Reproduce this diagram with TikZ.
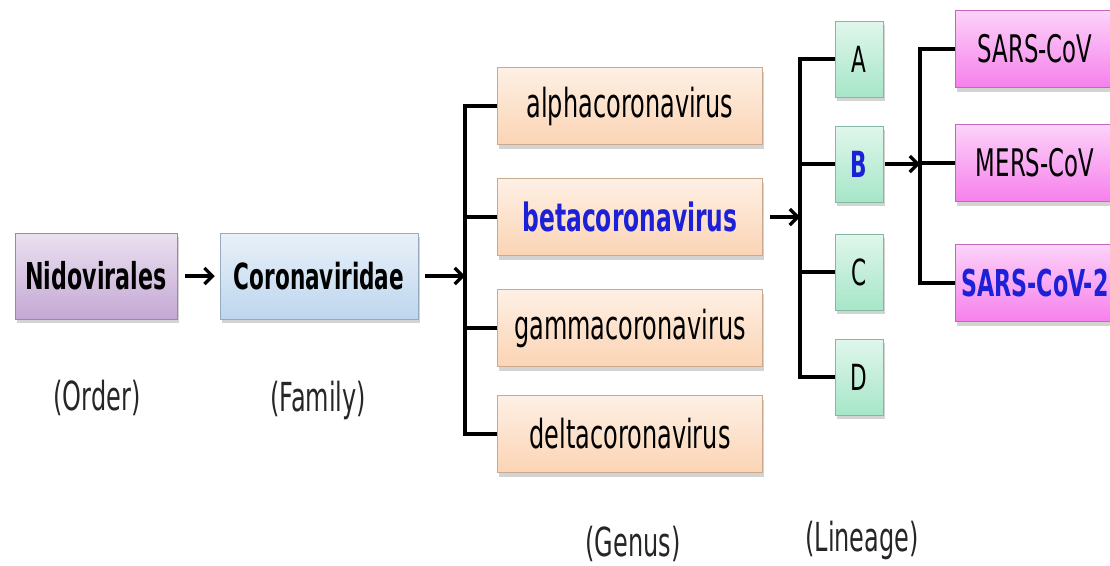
\documentclass[tikz,border=0pt]{standalone}
\usepackage{fontspec}
\setmainfont{DejaVu Sans}[FakeStretch=0.6]
\usetikzlibrary{arrows.meta,shadows}
\definecolor{nidocol}{RGB}{196,168,212}
\definecolor{coronacol}{RGB}{190,214,238}
\definecolor{genuscol}{RGB}{251,212,180}
\definecolor{lineagecol}{RGB}{166,230,200}
\definecolor{straincol}{RGB}{246,128,236}
\definecolor{hilite}{RGB}{28,32,214}
\begin{document}
\begin{tikzpicture}[x=1pt, y=-1pt, line width=3.2pt,
    box/.style={rectangle, inner sep=0pt, draw=#1!80!black, line width=0.5pt,
        top color=#1!35!white, bottom color=#1,
        drop shadow={shadow xshift=1.5pt, shadow yshift=-4pt, opacity=0.35}},
    arr/.style={-{Straight Barb[length=8pt, width=16pt]}},
    rank/.style={font=\fontsize{40}{44}\selectfont, text=black!85}]
    \useasboundingbox (0,0) rectangle (1110,565);

    % order and family
    \node [box=nidocol, minimum width=162, minimum height=86, font=\bfseries\fontsize{37}{40}\selectfont] (nido) at (96,276) {Nidovirales};
    \node [box=coronacol, minimum width=198, minimum height=86, font=\bfseries\fontsize{36}{40}\selectfont] (corona) at (319,276) {Coronaviridae};

    % genus
    \node [box=genuscol, minimum width=265, minimum height=77, font=\fontsize{40}{44}\selectfont] (alpha) at (630,106) {alphacoronavirus};
    \node [box=genuscol, minimum width=265, minimum height=77, font=\bfseries\fontsize{39}{44}\selectfont, text=hilite] (beta) at (630,217) {betacoronavirus};
    \node [box=genuscol, minimum width=265, minimum height=77, font=\fontsize{40}{44}\selectfont] (gamma) at (630,328) {gammacoronavirus};
    \node [box=genuscol, minimum width=265, minimum height=77, font=\fontsize{40}{44}\selectfont] (delta) at (630,434) {deltacoronavirus};

    % lineage
    \node [box=lineagecol, minimum width=48, minimum height=76, font=\fontsize{36}{40}\selectfont] (A) at (859,59) {A};
    \node [box=lineagecol, minimum width=48, minimum height=76, font=\bfseries\fontsize{36}{40}\selectfont, text=hilite] (B) at (859,164) {B};
    \node [box=lineagecol, minimum width=48, minimum height=76, font=\fontsize{36}{40}\selectfont] (C) at (859,272) {C};
    \node [box=lineagecol, minimum width=48, minimum height=76, font=\fontsize{36}{40}\selectfont] (D) at (859,377) {D};

    % species
    \node [box=straincol, minimum width=160, minimum height=77, font=\fontsize{38}{42}\selectfont] (sars) at (1035,49) {SARS-CoV};
    \node [box=straincol, minimum width=160, minimum height=77, font=\fontsize{38}{42}\selectfont] (mers) at (1035,163) {MERS-CoV};
    \node [box=straincol, minimum width=160, minimum height=77, font=\bfseries\fontsize{37}{42}\selectfont, text=hilite] (sars2) at (1035,283) {SARS-CoV-2};

    % ranks
    \node [rank] (order) at (97,398) {(Order)};
    \node [rank] (family) at (318,400) {(Family)};
    \node [rank] (genus) at (633,544) {(Genus)};
    \node [rank] (lin) at (862,540) {(Lineage)};

    % connectors
    \coordinate (gbar) at (465,276);
    \coordinate (lbar) at (800,217);
    \coordinate (sbar) at (920,164);
    \draw [arr] ([xshift=8]nido.east) -- ([xshift=-5]corona.west);
    \draw [arr] ([xshift=7]corona.east) -- (corona.east -| gbar);
    \draw (alpha.west) -- (alpha.west -| gbar) -- (delta.west -| gbar) -- (delta.west);
    \draw (beta.west) -- (beta.west -| gbar);
    \draw (gamma.west) -- (gamma.west -| gbar);
    \draw [arr] ([xshift=7]beta.east) -- (beta.east -| lbar);
    \draw (A.west) -- (A.west -| lbar) -- (D.west -| lbar) -- (D.west);
    \draw (B.west) -- (B.west -| lbar);
    \draw (C.west) -- (C.west -| lbar);
    \draw [arr] ([xshift=2]B.east) -- (B.east -| sbar);
    \draw (sars.west) -- (sars.west -| sbar) -- (sars2.west -| sbar) -- (sars2.west);
    \draw (mers.west) -- (mers.west -| sbar);
\end{tikzpicture}
\end{document}
